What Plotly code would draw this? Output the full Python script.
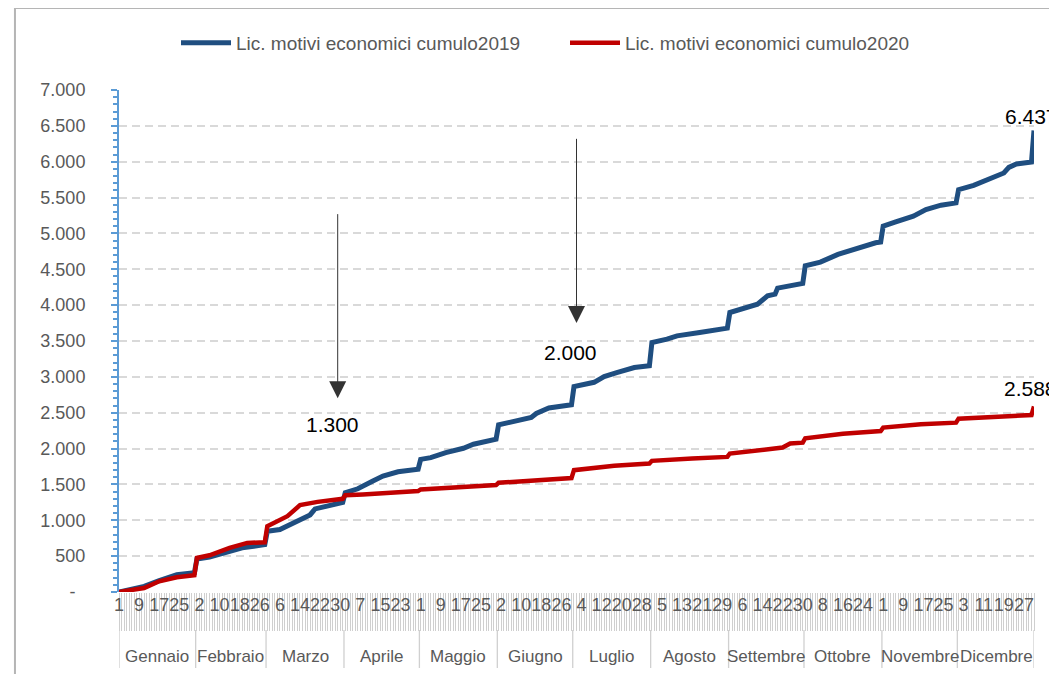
import plotly.graph_objects as go

# ---------------- data ----------------
months = ["Gennaio", "Febbraio", "Marzo", "Aprile", "Maggio", "Giugno",
          "Luglio", "Agosto", "Settembre", "Ottobre", "Novembre", "Dicembre"]
month_lengths = [31, 28, 31, 30, 31, 30, 31, 31, 30, 31, 30, 31]

# day-of-month labels shown every 8 days on the category axis
tick_labels = ["1", "9", "17", "25", "2", "10", "18", "26", "6", "14", "22", "30",
               "7", "15", "23", "1", "9", "17", "25", "2", "10", "18", "26",
               "4", "12", "20", "28", "5", "13", "21", "29", "6", "14", "22", "30",
               "8", "16", "24", "1", "9", "17", "25", "3", "11", "19", "27"]

# cumulative series, sampled at day-of-year (1..365)
days_2019 = [1, 11, 17, 24, 31, 32, 37, 45, 50, 59, 60, 65, 72, 77, 79, 90,
             91, 96, 102, 106, 112, 120, 121, 125, 131, 138, 142, 151,
             152, 157, 165, 167, 172, 181, 182, 190, 194, 199, 206, 212,
             213, 219, 223, 232, 243, 244, 249, 255, 259, 262, 263, 273,
             274, 280, 287, 293, 302, 304, 305, 310, 317, 322, 328, 334,
             335, 341, 346, 353, 355, 358, 364, 365]
vals_2019 = [0, 79, 158, 242, 268, 461, 489, 568, 615, 661, 847, 871, 987, 1075, 1159, 1250,
             1383, 1439, 1547, 1617, 1677, 1712, 1850, 1874, 1944, 2004, 2060, 2130,
             2331, 2364, 2434, 2490, 2565, 2611, 2864, 2924, 3004, 3060, 3130, 3155,
             3479, 3525, 3572, 3618, 3679, 3897, 3944, 4014, 4130, 4153, 4237, 4302,
             4548, 4600, 4708, 4778, 4870, 4880, 5102, 5162, 5241, 5333, 5394, 5426,
             5611, 5671, 5750, 5843, 5921, 5968, 5995, 6437]

days_2020 = [1, 11, 17, 24, 31, 32, 37, 45, 52, 59, 60, 64, 68, 73, 80, 90,
             91, 98, 112, 120, 121, 138, 151, 152, 165, 176, 181,
             182, 190, 198, 212, 213, 229, 243, 244, 252, 265, 268, 273,
             274, 289, 304, 305, 320, 334, 335, 349, 364, 365]
vals_2020 = [0, 56, 149, 205, 233, 475, 512, 615, 684, 694, 917, 987, 1057, 1211, 1257, 1300,
             1350, 1360, 1397, 1407, 1430, 1467, 1491, 1523, 1547, 1574, 1588,
             1699, 1727, 1759, 1792, 1829, 1861, 1884, 1931, 1968, 2014, 2070, 2083,
             2144, 2208, 2245, 2292, 2338, 2361, 2417, 2440, 2468, 2588]

# gap annotations (arrows + labels)
gap_labels = ["1.300", "2.000"]
arrow_day = [88, 183]
arrow_from = [5290, 6340]
arrow_to = [2700, 3750]
gap_label_day = [85.9, 180.8]
gap_label_val = [2335, 3339]

# ---------------- derived axis helpers ----------------
FONT = "Liberation Sans, Arial, sans-serif"
GREY_TXT = "#595959"
all_days = list(range(1, 366))
tick_days = [1 + 8 * i for i in range(len(tick_labels))]
month_start = []
s = 1
for L in month_lengths:
    month_start.append(s)
    s += L
month_end = [st + L - 1 for st, L in zip(month_start, month_lengths)]
month_mid = [(a + b) / 2 for a, b in zip(month_start, month_end)]
month_edges = [1] + [e + 0.5 for e in month_end[:-1]] + [365]


def it_fmt(v):
    return f"{v:,}".replace(",", ".")


fig = go.Figure()
fig.add_trace(go.Scatter(
    x=days_2019, y=vals_2019, mode="lines",
    name="Lic. motivi economici cumulo2019",
    line=dict(color="#1f4e80", width=5), hoverinfo="x+y"))
fig.add_trace(go.Scatter(
    x=days_2020, y=vals_2020, mode="lines",
    name="Lic. motivi economici cumulo2020",
    line=dict(color="#c00000", width=4.5), hoverinfo="x+y"))

annotations = []
for d, a, b in zip(arrow_day, arrow_from, arrow_to):
    annotations.append(dict(x=d, y=b, ax=d, ay=a, xref="x", yref="y",
                            axref="x", ayref="y", text="", showarrow=True,
                            arrowhead=2, arrowsize=3.4, arrowwidth=1,
                            arrowcolor="#333333"))
for t, d, v in zip(gap_labels, gap_label_day, gap_label_val):
    annotations.append(dict(x=d, y=v, xref="x", yref="y", text=t, showarrow=False,
                            font=dict(family=FONT, size=21, color="black")))
annotations.append(dict(x=days_2019[-1], y=vals_2019[-1], xref="x", yref="y",
                        text=it_fmt(vals_2019[-1]), showarrow=False, yshift=14, xshift=-3,
                        font=dict(family=FONT, size=21, color="black")))
annotations.append(dict(x=days_2020[-1], y=vals_2020[-1], xref="x", yref="y",
                        text=it_fmt(vals_2020[-1]), showarrow=False, yshift=18, xshift=-4,
                        font=dict(family=FONT, size=21, color="black")))
# month names of the grouped category axis
for m, mid in zip(months, month_mid):
    annotations.append(dict(x=mid, y=-0.1275, xref="x", yref="paper", text=m,
                            showarrow=False, yanchor="middle",
                            font=dict(family=FONT, size=17, color=GREY_TXT)))

shapes = [dict(type="path", xref="paper", yref="paper",
               path="M -0.1137 -0.3 L -0.1137 1.1633 L 1.2 1.1633",
               line=dict(color="#b5b5b5", width=2))]
for e in month_edges:
    shapes.append(dict(type="line", xref="x", yref="paper", x0=e, x1=e,
                       y0=-0.0757, y1=-0.1514,
                       line=dict(color="#d0d0d0", width=1.3)))

# body of the page has an 8px default margin -> figure is 8px smaller
fig.update_layout(
    width=1049, height=666,
    margin=dict(l=111, r=23, t=82, b=82),
    paper_bgcolor="white", plot_bgcolor="white",
    separators=",.",
    font=dict(family=FONT, size=18, color=GREY_TXT),
    annotations=annotations,
    shapes=shapes,
    legend=dict(orientation="h", xref="paper", yref="container",
                x=0.0623, y=1 - 35 / 666, xanchor="left", yanchor="middle",
                entrywidth=324, entrywidthmode="pixels", itemwidth=50,
                font=dict(family=FONT, size=19, color=GREY_TXT),
                bgcolor="rgba(0,0,0,0)"),
    xaxis=dict(range=[1, 365], showgrid=False, zeroline=False, showline=False,
               fixedrange=True, automargin=False, tickangle=0,
               tickmode="array", tickvals=tick_days, ticktext=tick_labels, ticks="",
               tickfont=dict(family=FONT, size=18, color=GREY_TXT),
               minor=dict(tickmode="array", tickvals=all_days, ticks="outside",
                          ticklen=38, tickcolor="#cfcfcf", tickwidth=1, showgrid=False)),
    yaxis=dict(range=[0, 7000], tickmode="linear", tick0=0, dtick=500,
               tickformat=",d", labelalias={"0": "-\u00a0\u00a0"},
               ticks="outside", ticklen=6, tickwidth=2, tickcolor="#5b9bd5",
               showline=True, linecolor="#5b9bd5", linewidth=2,
               showgrid=True, gridcolor="#d9d9d9", gridwidth=1.5, griddash="8px,5px",
               zeroline=False, ticklabelstandoff=22, automargin=False, fixedrange=True,
               minor=dict(dtick=100, tick0=0, ticks="outside", ticklen=4,
                          tickcolor="#5b9bd5", tickwidth=1.5, showgrid=False),
               tickfont=dict(family=FONT, size=18, color=GREY_TXT)),
)

fig.write_html("out.html")
